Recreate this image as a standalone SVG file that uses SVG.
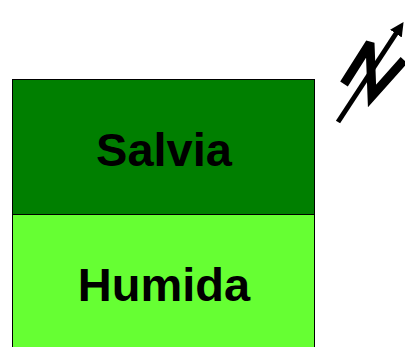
<svg xmlns="http://www.w3.org/2000/svg" width="405" height="347" viewBox="0 0 405 347">
<style>
.lbl{font-family:"Liberation Sans",Arial,sans-serif;font-weight:bold;font-size:47px;fill:#000;text-anchor:middle}
.box{stroke:#000;stroke-width:1}
</style>
<defs>
<marker id="ah" markerWidth="14" markerHeight="16" refX="2" refY="8" orient="auto" markerUnits="userSpaceOnUse">
<path d="M0,1 L14,8 L0,15 Z" fill="#000"/>
</marker>
</defs>
<rect width="405" height="347" fill="#fff"/>
<g id="salvia">
<rect class="box" x="12.5" y="79.5" width="302" height="135" fill="#007f00"/>
<text class="lbl" x="164" y="166">Salvia</text>
</g>
<g id="humida">
<rect class="box" x="12.5" y="214.5" width="302" height="140" fill="#66ff33"/>
<text class="lbl" x="164" y="301">Humida</text>
</g>
<g id="connectors">
<polyline points="344,84 370,43 372,96 404,60" fill="none" stroke="#000" stroke-width="9" stroke-linejoin="miter" stroke-miterlimit="3"/>
<line x1="338" y1="122" x2="397" y2="32" stroke="#000" stroke-width="5" marker-end="url(#ah)"/>
</g>
</svg>
